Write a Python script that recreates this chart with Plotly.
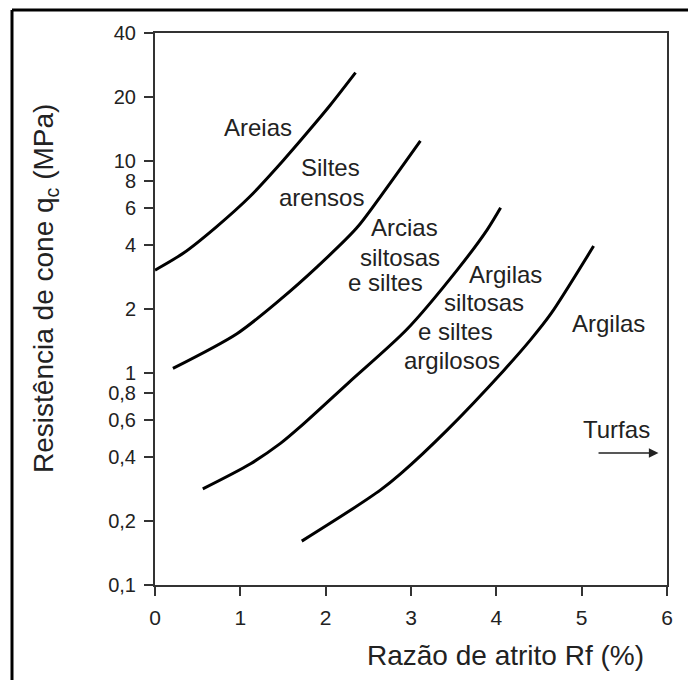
import plotly.graph_objects as go

# Boundary curves of the soil classification chart (Rf in %, qc in MPa)
areias_rf = [0.0, 0.33, 0.72, 1.11, 1.50, 1.78, 2.05, 2.35]
areias_qc = [3.05, 3.66, 4.88, 6.76, 10.0, 13.5, 18.2, 26.0]

siltes_rf = [0.21, 0.96, 1.47, 1.90, 2.36, 2.64, 3.11]
siltes_qc = [1.05, 1.53, 2.22, 3.16, 4.8, 6.76, 12.4]

arcias_rf = [0.56, 1.12, 1.47, 1.70, 2.27, 2.95, 3.54, 3.89, 4.05]
arcias_qc = [0.284, 0.373, 0.465, 0.556, 0.90, 1.6, 3.05, 4.71, 6.0]

argilas_rf = [1.72, 2.29, 2.64, 2.88, 3.42, 4.09, 4.40, 4.64, 5.14]
argilas_qc = [0.161, 0.225, 0.28, 0.335, 0.536, 1.03, 1.43, 1.90, 3.96]

# Axis ticks
x_ticks = [0, 1, 2, 3, 4, 5, 6]
y_tickvals = [0.1, 0.2, 0.4, 0.6, 0.8, 1, 2, 4, 6, 8, 10, 20, 40]
y_ticktext = ["0,1", "0,2", "0,4", "0,6", "0,8", "1", "2", "4", "6", "8", "10", "20", "40"]

# Zone names: (text, Rf, log10 qc)
zone_labels = [
    ("Areias", 1.21, 1.155),
    ("Siltes", 2.06, 0.967),
    ("arensos", 1.95, 0.825),
    ("Arcias", 2.92, 0.684),
    ("siltosas", 2.87, 0.542),
    ("e siltes", 2.70, 0.424),
    ("Argilas", 4.11, 0.462),
    ("siltosas", 3.86, 0.330),
    ("e siltes", 3.52, 0.193),
    ("argilosos", 3.48, 0.060),
    ("Argilas", 5.31, 0.235),
    ("Turfas", 5.41, -0.269),
]

FONT = "Liberation Sans, Arial, sans-serif"
TXT = "#222222"

fig = go.Figure()
for rf, qc in [(areias_rf, areias_qc), (siltes_rf, siltes_qc),
               (arcias_rf, arcias_qc), (argilas_rf, argilas_qc)]:
    fig.add_trace(go.Scatter(
        x=rf, y=qc, mode="lines",
        line=dict(color="black", width=3, shape="spline", smoothing=0.8),
        showlegend=False, hoverinfo="skip",
    ))

for text, x, y in zone_labels:
    fig.add_annotation(x=x, y=y, xref="x", yref="y", text=text, showarrow=False,
                       font=dict(family=FONT, size=24, color=TXT),
                       xanchor="center", yanchor="middle")

# Arrow pointing to peat (Turfas) beyond the chart
fig.add_annotation(x=5.9, y=-0.378, ax=5.18, ay=-0.378, xref="x", yref="y",
                   axref="x", ayref="y", text="", showarrow=True,
                   arrowhead=2, arrowsize=1.2, arrowwidth=1.6, arrowcolor="#222222")

# Axis titles
fig.add_annotation(x=0.684, y=-0.127, xref="paper", yref="paper",
                   text="Razão de atrito Rf (%)", showarrow=False,
                   font=dict(family=FONT, size=28, color=TXT),
                   xanchor="center", yanchor="middle")
fig.add_annotation(x=-0.215, y=0.538, xref="paper", yref="paper",
                   text="Resistência de cone q<sub>c</sub> (MPa)", showarrow=False,
                   textangle=-90,
                   font=dict(family=FONT, size=28, color=TXT),
                   xanchor="center", yanchor="middle")

# Outer frame (left and top edges)
fig.add_shape(type="line", xref="paper", yref="paper",
              x0=-0.2793, x1=-0.2793, y0=-0.3, y1=1.0417,
              line=dict(color="black", width=3))
fig.add_shape(type="line", xref="paper", yref="paper",
              x0=-0.2793, x1=1.2, y0=1.0417, y1=1.0417,
              line=dict(color="black", width=3))

fig.update_xaxes(
    range=[0, 6], tickvals=x_ticks, ticktext=[str(v) for v in x_ticks],
    showgrid=False, zeroline=False,
    showline=True, linecolor="#333333", linewidth=2, mirror=True,
    ticks="outside", ticklen=9, tickwidth=2, tickcolor="#333333",
    ticklabelstandoff=4,
    tickfont=dict(family=FONT, size=21, color=TXT),
)
fig.update_yaxes(
    type="log", range=[-1, 1.60206], tickvals=y_tickvals, ticktext=y_ticktext,
    showgrid=False, zeroline=False,
    showline=True, linecolor="#333333", linewidth=2, mirror=True,
    ticks="outside", ticklen=9, tickwidth=2, tickcolor="#333333",
    ticklabelstandoff=4,
    tickfont=dict(family=FONT, size=20, color=TXT),
)

fig.update_layout(
    width=688, height=680,
    margin=dict(l=155, r=21, t=33, b=95),
    paper_bgcolor="white", plot_bgcolor="white",
)

fig.write_html("out.html")
